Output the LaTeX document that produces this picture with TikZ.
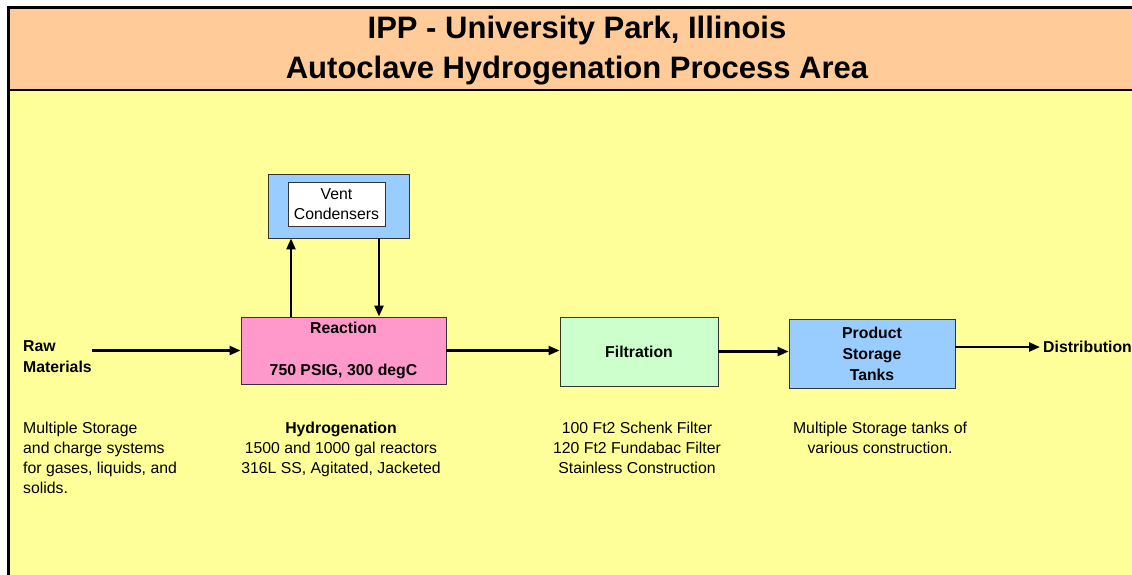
\documentclass[tikz,border=0pt]{standalone}
\usepackage{fontspec}
\setmainfont{Liberation Sans}
\usetikzlibrary{arrows.meta}
\definecolor{peach}{HTML}{FFCC99}
\definecolor{paleyellow}{HTML}{FFFF99}
\definecolor{boxblue}{HTML}{99CCFF}
\definecolor{boxpink}{HTML}{FF99CC}
\definecolor{boxgreen}{HTML}{CCFFCC}
\begin{document}
\begin{tikzpicture}[x=1pt,y=-1pt,
 body/.style={font=\fontsize{15.8}{20}\selectfont, inner sep=0pt},
 bodyb/.style={font=\fontsize{15.8}{21}\selectfont\bfseries, inner sep=0pt},
 procbox/.style={draw=black!80, line width=0.9pt, inner sep=0pt},
 flow/.style={line width=2.4pt, -{Triangle[length=11pt,width=9pt]}},
]
\useasboundingbox (0,0) rectangle (1132,575);
\fill[white] (0,0) rectangle (1132,575);
\fill[peach] (8,8) rectangle (1132,90);
\fill[paleyellow] (8,90) rectangle (1132,575);
\draw[line width=3pt] (8.5,575) -- (8.5,7.5) -- (1132,7.5);
\draw[line width=2pt] (8.5,90) -- (1132,90);

\node[font=\fontsize{31}{40}\selectfont\bfseries, align=center, inner sep=0pt] (title) at (577,51)
  {IPP - University Park, Illinois\\Autoclave Hydrogenation Process Area};

\node[procbox, fill=boxblue, minimum width=141pt, minimum height=64pt] (vent) at (338.5,206) {};
\node[procbox, fill=white, minimum width=97pt, minimum height=44pt, body, align=center] (ventlabel) at (336.5,204) {Vent\\Condensers};

\node[procbox, fill=boxpink, minimum width=205pt, minimum height=67pt, bodyb, align=center] (reaction) at (343.5,350.5)
  {Reaction\\[21pt]750 PSIG, 300 degC};
\node[procbox, fill=boxgreen, minimum width=158pt, minimum height=69pt, bodyb] (filtration) at (639,351.5) {Filtration};
\node[procbox, fill=boxblue, minimum width=166pt, minimum height=69pt, bodyb, align=center] (product) at (872,353.5)
  {Product\\Storage\\Tanks};

\node[bodyb, align=left, anchor=west] (raw) at (23,357) {Raw\\Materials};
\node[bodyb, anchor=west] (dist) at (1043,347) {Distribution};

\node[body, align=left, anchor=north west] (rawdesc) at (23,422)
  {Multiple Storage\\and charge systems\\for gases, liquids, and\\solids.};
\node[body, align=center, anchor=north] (hydrodesc) at (341,422)
  {\textbf{Hydrogenation}\\1500 and 1000 gal reactors\\316L SS, Agitated, Jacketed};
\node[body, align=center, anchor=north] (filtdesc) at (637,422)
  {100 Ft2 Schenk Filter\\120 Ft2 Fundabac Filter\\Stainless Construction};
\node[body, align=center, anchor=north] (proddesc) at (880,422)
  {Multiple Storage tanks of\\various construction.};

\draw[flow] (raw.east |- reaction.west) -- (reaction.west);
\draw[flow] ([xshift=-52.5pt]reaction.north) -- ([xshift=-52.5pt]reaction.north |- vent.south);
\draw[flow] ([xshift=40.5pt]vent.south) -- ([xshift=40.5pt]vent.south |- reaction.north);
\draw[flow] (reaction.east) -- (reaction.east -| filtration.west);
\draw[flow] (filtration.east) -- (filtration.east -| product.west);
\draw[flow] (product.east |- dist.west) -- ([xshift=-3pt]dist.west);
\end{tikzpicture}
\end{document}
